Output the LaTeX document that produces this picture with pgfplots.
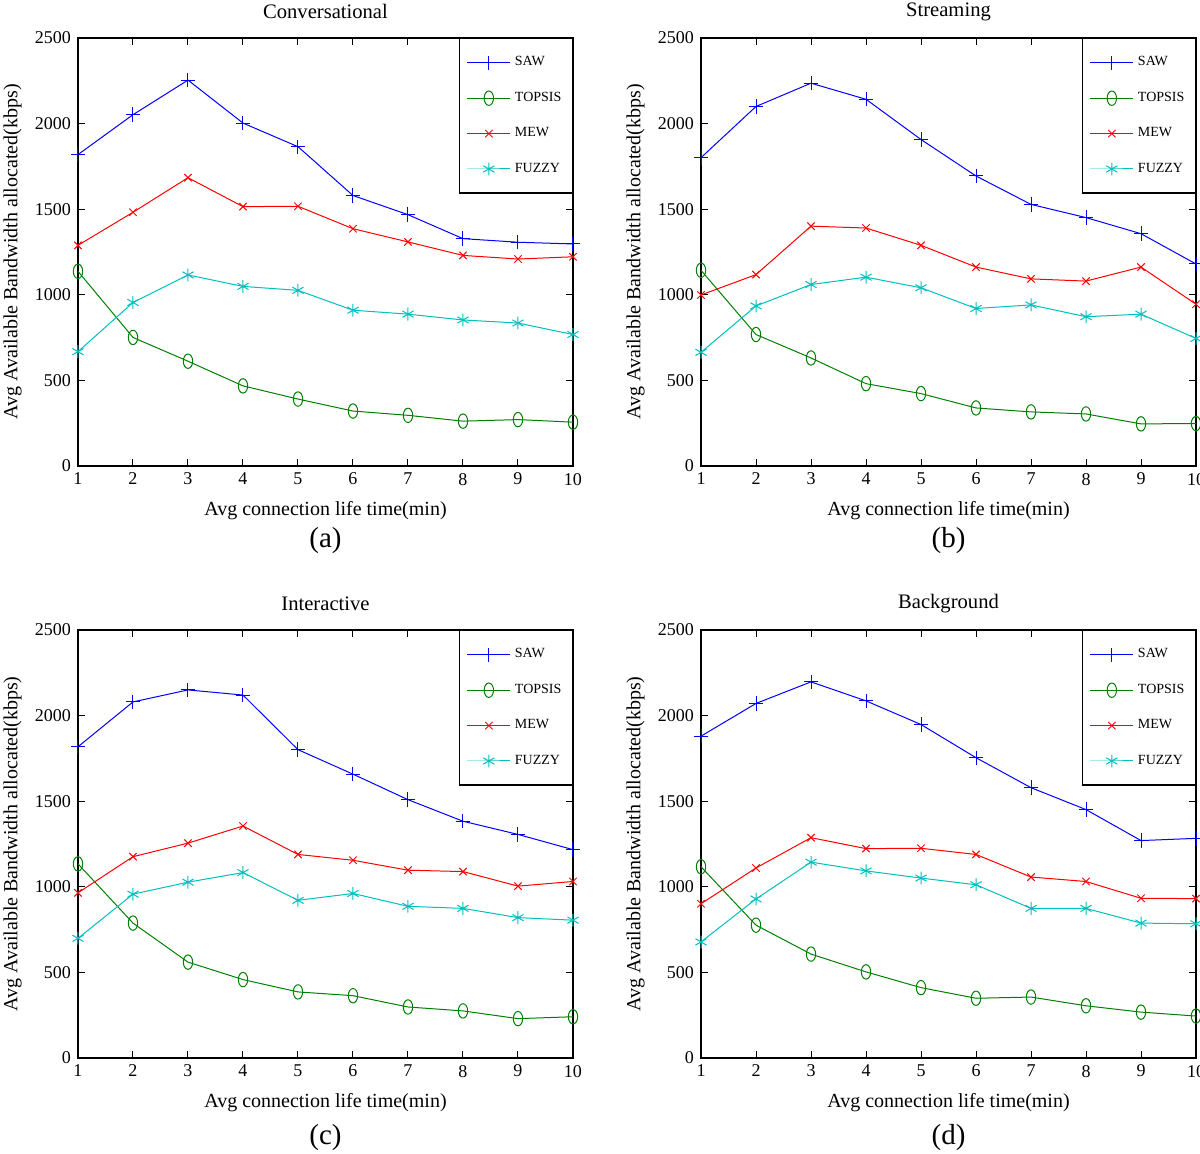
\documentclass[border=0pt]{standalone}
\usepackage{pgfplots}
\pgfplotsset{compat=1.18}
\usepackage{fontspec}
\setmainfont{Liberation Serif}
\definecolor{mblue}{rgb}{0,0,1}
\definecolor{mgreen}{rgb}{0,0.5,0}
\definecolor{mred}{rgb}{1,0,0}
\definecolor{mcyan}{rgb}{0,0.75,0.75}
\tikzset{sublab/.style={font=\fontsize{14.5}{16}\selectfont}}
\pgfplotsset{
  myax/.style={
    width=247.5pt, height=214pt, scale only axis,
    clip mode=individual,
    xmin=1, xmax=10, ymin=0, ymax=2500,
    xtick={1,...,10}, ytick={0,500,...,2500},
    tick align=inside, tick pos=both, major tick length=3.5pt,
    axis line style={black, line width=0.6pt},
    every tick/.style={black, line width=0.5pt},
    /pgf/number format/assume math mode=true,
    /pgf/number format/set thousands separator={},
    tick label style={font=\fontsize{9}{10}\selectfont},
    label style={font=\fontsize{10.3}{12}\selectfont},
    every axis title shift=0pt,
    every axis title/.style={font=\fontsize{10.3}{12}\selectfont, at={(axis description cs:0.5,1.061)}, anchor=center},
    every axis x label/.style={at={(axis description cs:0.5,-0.105)}, anchor=center},
    every axis y label/.style={at={(axis description cs:-0.132,0.5)}, rotate=90, anchor=center},
    xlabel={Avg connection life time(min)},
    ylabel={Avg Available Bandwidth allocated(kbps)},
    legend style={at={(1,1)}, anchor=north east, draw=black, line width=0.6pt,
      font=\fontsize{7}{8}\selectfont, row sep=7.6pt, inner xsep=3.5pt, inner ysep=7pt,
      legend cell align=left},
    legend image code/.code={\draw[mark repeat=2,mark phase=2,#1] plot coordinates {(0cm,0cm)(0.38cm,0cm)(0.76cm,0cm)};},
  },
  saw/.style={color=mblue, line width=0.5pt, mark=+, mark size=3.6pt, mark options={line width=0.5pt}},
  top/.style={color=mgreen, line width=0.5pt, mark=o, mark size=3.6pt, mark options={xscale=0.65, line width=0.5pt}},
  mew/.style={color=mred, line width=0.5pt, mark=x, mark size=2.6pt, mark options={line width=0.5pt}},
  fuz/.style={color=mcyan, line width=0.5pt, mark=asterisk, mark size=3.2pt, mark options={line width=0.5pt}},
}
\begin{document}
\begin{tikzpicture}
\path[use as bounding box] (0,0) rectangle (600pt,576.5pt);
% (a)
\begin{axis}[myax, at={(39pt,343.5pt)}, anchor=south west, title={Conversational}]
\addplot[saw] coordinates {(1,1819)(2,2052)(3,2254)(4,2003)(5,1865)(6,1580)(7,1468)(8,1328)(9,1307)(10,1297)};
\addplot[top] coordinates {(1,1137)(2,751)(3,612)(4,468)(5,391)(6,321)(7,296)(8,262)(9,271)(10,256)};
\addplot[mew] coordinates {(1,1289)(2,1482)(3,1684)(4,1515)(5,1517)(6,1386)(7,1309)(8,1230)(9,1209)(10,1222)};
\addplot[fuz] coordinates {(1,668)(2,955)(3,1116)(4,1049)(5,1026)(6,910)(7,887)(8,853)(9,835)(10,768)};
\legend{SAW,TOPSIS,MEW,FUZZY}
\node[sublab] at (axis description cs:0.5,-0.175) {(a)};
\end{axis}
% (b)
\begin{axis}[myax, at={(350.5pt,343.5pt)}, anchor=south west, title={Streaming}]
\addplot[saw] coordinates {(1,1801)(2,2100)(3,2236)(4,2142)(5,1907)(6,1694)(7,1528)(8,1451)(9,1357)(10,1180)};
\addplot[top] coordinates {(1,1143)(2,768)(3,631)(4,481)(5,423)(6,339)(7,316)(8,304)(9,246)(10,248)};
\addplot[mew] coordinates {(1,999)(2,1118)(3,1401)(4,1390)(5,1289)(6,1162)(7,1093)(8,1080)(9,1162)(10,945)};
\addplot[fuz] coordinates {(1,664)(2,935)(3,1060)(4,1103)(5,1041)(6,920)(7,941)(8,872)(9,887)(10,745)};
\legend{SAW,TOPSIS,MEW,FUZZY}
\node[sublab] at (axis description cs:0.5,-0.175) {(b)};
\end{axis}
% (c)
\begin{axis}[myax, at={(39pt,47.5pt)}, anchor=south west, title={Interactive}]
\addplot[saw] coordinates {(1,1818)(2,2080)(3,2150)(4,2120)(5,1801)(6,1658)(7,1509)(8,1383)(9,1306)(10,1217)};
\addplot[top] coordinates {(1,1134)(2,788)(3,560)(4,458)(5,386)(6,364)(7,298)(8,275)(9,230)(10,241)};
\addplot[mew] coordinates {(1,965)(2,1176)(3,1255)(4,1355)(5,1189)(6,1155)(7,1097)(8,1089)(9,1004)(10,1031)};
\addplot[fuz] coordinates {(1,699)(2,957)(3,1027)(4,1083)(5,921)(6,961)(7,886)(8,874)(9,820)(10,805)};
\legend{SAW,TOPSIS,MEW,FUZZY}
\node[sublab] at (axis description cs:0.5,-0.185) {(c)};
\end{axis}
% (d)
\begin{axis}[myax, at={(350.5pt,47.5pt)}, anchor=south west, title={Background}]
\addplot[saw] coordinates {(1,1880)(2,2071)(3,2197)(4,2086)(5,1948)(6,1754)(7,1579)(8,1451)(9,1270)(10,1283)};
\addplot[top] coordinates {(1,1117)(2,776)(3,607)(4,503)(5,411)(6,349)(7,356)(8,305)(9,268)(10,245)};
\addplot[mew] coordinates {(1,901)(2,1110)(3,1287)(4,1223)(5,1225)(6,1189)(7,1057)(8,1031)(9,933)(10,931)};
\addplot[fuz] coordinates {(1,678)(2,929)(3,1144)(4,1093)(5,1051)(6,1012)(7,874)(8,874)(9,788)(10,784)};
\legend{SAW,TOPSIS,MEW,FUZZY}
\node[sublab] at (axis description cs:0.5,-0.185) {(d)};
\end{axis}
\end{tikzpicture}
\end{document}
